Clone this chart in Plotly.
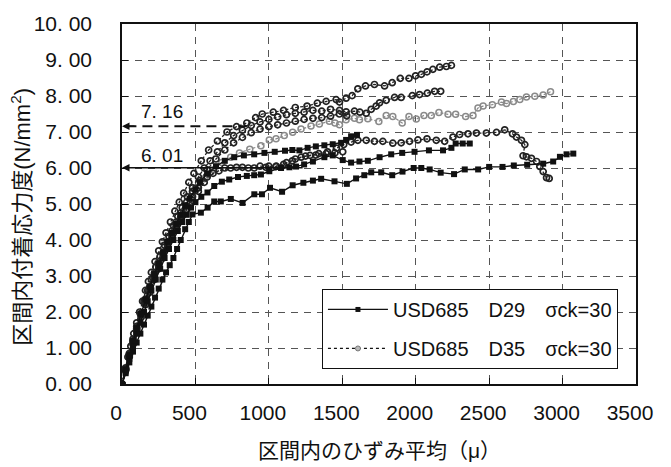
import plotly.graph_objects as go

# ---------------- data (strain in micro, stress in N/mm2) ----------------
S1_x = [0,25,50,75,100,125,150,175,200,225,250,275,300,325,350,375,400,430,455,480,537,583,628,673,741,821,901,953,1008,1090,1162,1235,1300,1356,1447,1531,1594,1650,1697,1765,1840,1910,1986,2038,2095,2170,2261,2334,2425,2500,2591,2668,2759,2868,2936,2982,3027,3073]
S1_y = [0,0.3,0.6,0.9,1.15,1.4,1.65,1.9,2.15,2.4,2.65,2.9,3.1,3.3,3.5,3.75,4.0,4.3,4.5,4.71,4.76,4.9,5.07,5.07,5.14,5.03,5.27,5.27,5.45,5.34,5.52,5.59,5.65,5.70,5.63,5.56,5.71,5.8,5.88,5.88,5.80,5.9,6.00,6.00,5.96,5.87,5.83,5.96,5.96,6.03,6.03,6.07,6.09,6.12,6.18,6.31,6.38,6.40]

S2_x = [0,25,50,75,100,125,150,175,200,230,260,290,320,350,380,410,440,470,500,540,582,628,680,730,790,850,900,946,1003,1083,1140,1185,1240,1300,1378,1435,1503,1560,1617,1674,1754,1833,1908,1992,2090,2186,2243,2272,2320,2368]
S2_y = [0,0.35,0.7,1.05,1.4,1.7,2.0,2.3,2.6,2.9,3.2,3.5,3.75,4.0,4.25,4.5,4.7,4.9,5.05,5.2,5.32,5.5,5.62,5.68,5.75,5.78,5.8,5.82,5.91,6.0,6.02,6.04,6.1,6.18,6.3,6.35,6.22,6.15,6.18,6.2,6.3,6.38,6.42,6.45,6.49,6.49,6.56,6.68,6.68,6.68]

S3_x = [0,25,50,75,100,130,160,190,220,250,280,310,340,370,400,430,460,500,530,580,640,700,764,830,900,970,1040,1110,1160,1208,1264,1320,1378,1435,1492,1526,1560,1600]
S3_y = [0,0.4,0.8,1.2,1.55,1.95,2.35,2.7,3.05,3.35,3.65,3.95,4.2,4.45,4.7,4.95,5.15,5.4,5.6,5.85,6.05,6.2,6.3,6.35,6.38,6.42,6.45,6.48,6.5,6.49,6.56,6.6,6.63,6.66,6.7,6.78,6.88,6.92]

C1_x = [0,20,40,60,80,100,120,140,160,180,200,225,250,275,300,330,360,390,420,455,490,540,590,650,715,780,850,910,955,1030,1100,1180,1260,1330,1390,1458,1481,1526,1567,1606,1658,1719,1788,1840,1895,1954,1999,2038,2077,2117,2163,2209,2243]
C1_y = [0,0.4,0.75,1.05,1.4,1.7,2.0,2.3,2.6,2.85,3.1,3.4,3.7,3.95,4.2,4.5,4.8,5.05,5.3,5.6,5.85,6.2,6.5,6.75,7.0,7.15,7.25,7.4,7.5,7.55,7.6,7.68,7.72,7.8,7.85,7.9,7.83,7.94,8.01,8.2,8.28,8.32,8.28,8.37,8.49,8.49,8.56,8.6,8.67,8.74,8.8,8.82,8.85]

C2_x = [0,25,50,75,100,125,150,175,200,230,260,290,320,350,380,410,445,480,520,560,600,650,700,760,820,880,940,1000,1060,1120,1180,1240,1300,1360,1420,1481,1526,1583,1620,1663,1697,1731,1754,1799,1856,1901,1977,2026,2079,2129,2170]
C2_y = [0,0.45,0.85,1.25,1.6,1.95,2.3,2.6,2.9,3.25,3.55,3.85,4.1,4.4,4.65,4.9,5.2,5.45,5.75,6.0,6.2,6.45,6.7,6.9,7.05,7.18,7.28,7.35,7.42,7.48,7.52,7.55,7.6,7.58,7.63,7.6,7.56,7.58,7.55,7.52,7.63,7.72,7.81,7.88,7.96,7.96,8.01,8.04,8.08,8.13,8.13]

C6_x = [0,25,50,75,100,130,160,190,220,250,280,310,340,370,400,440,480,530,580,640,700,760,820,880,940,1000,1060,1120,1180,1240,1300,1360,1420,1480,1530]
C6_y = [0,0.42,0.82,1.2,1.55,1.95,2.35,2.7,3.05,3.35,3.65,3.95,4.25,4.5,4.75,5.05,5.35,5.65,5.95,6.25,6.5,6.7,6.85,6.98,7.08,7.15,7.2,7.25,7.3,7.35,7.38,7.4,7.44,7.5,7.45]

C3_x = [0,25,50,75,100,130,160,190,220,250,280,310,340,370,400,440,480,520,560,620,680,740,800,870,946,1003,1049,1105,1162,1219,1287,1344,1412,1450,1481,1526,1583,1617,1674,1749,1799,1844,1908,1954,2004,2056,2106,2158,2220,2272,2340,2390,2424,2459,2522,2584,2618,2665,2709,2754,2811,2868,2918]
C3_y = [0,0.4,0.78,1.15,1.5,1.9,2.25,2.6,2.95,3.25,3.55,3.85,4.1,4.35,4.6,4.9,5.2,5.45,5.7,5.95,6.15,6.3,6.42,6.52,6.62,6.78,6.81,6.9,6.99,7.08,7.17,7.22,7.3,7.25,7.2,7.34,7.38,7.34,7.37,7.29,7.46,7.43,7.25,7.43,7.36,7.46,7.46,7.54,7.49,7.49,7.43,7.46,7.67,7.72,7.76,7.83,7.79,7.85,7.9,7.97,7.99,8.03,8.12]

C4_x = [0,25,50,75,100,130,160,190,220,250,280,310,340,370,400,440,480,520,560,620,700,780,860,940,1000,1049,1100,1160,1220,1280,1340,1400,1460,1510,1560,1606,1663,1719,1776,1844,1901,1958,2015,2077,2140,2197,2254,2299,2356,2413,2481,2550,2606,2659,2686,2720,2743,2731,2754,2788,2823,2845,2868,2891,2909]
C4_y = [0,0.38,0.75,1.1,1.45,1.85,2.2,2.55,2.9,3.2,3.5,3.8,4.05,4.3,4.55,4.85,5.1,5.35,5.6,5.85,6.0,6.02,6.0,6.05,6.05,6.04,6.1,6.2,6.3,6.35,6.4,6.45,6.55,6.65,6.72,6.77,6.77,6.74,6.74,6.69,6.70,6.74,6.78,6.81,6.77,6.74,6.86,6.93,6.95,6.97,6.97,6.99,7.06,6.95,6.86,6.77,6.65,6.34,6.31,6.27,6.18,6.04,5.90,5.73,5.71]

C5_x = [0,25,50,75,100,130,160,190,220,250,280,310,340,370,400,440,480,520,580,660,740,820,900,980,1050,1120,1180,1250,1320,1390,1450,1503]
C5_y = [0,0.4,0.8,1.18,1.52,1.92,2.3,2.65,3.0,3.3,3.6,3.9,4.15,4.4,4.65,4.95,5.2,5.45,5.75,5.92,6.0,6.02,6.0,6.02,6.05,6.15,6.25,6.33,6.36,6.4,6.42,6.45]

legend_names = ["USD685　D29　σck=30", "USD685　D35　σck=30"]
y_ticks = [0,1,2,3,4,5,6,7,8,9,10]
y_ticktext = ["0. 00","1. 00","2. 00","3. 00","4. 00","5. 00","6. 00","7. 00","8. 00","9. 00","10. 00"]
x_ticks = [0,500,1000,1500,2000,2500,3000,3500]
ref_high = 7.16
ref_low = 6.01
ref_high_end = 850
ref_low_end = 1240

LATIN = "Liberation Sans, Arial, Noto Sans CJK JP, sans-serif"
CJK = "Liberation Sans, Noto Sans CJK JP, sans-serif"

fig = go.Figure()

d29 = [(S1_x, S1_y), (S2_x, S2_y), (S3_x, S3_y)]
d35_black = [(C1_x, C1_y), (C2_x, C2_y), (C6_x, C6_y), (C4_x, C4_y), (C5_x, C5_y)]
d35_gray = [(C3_x, C3_y)]

for xs, ys in d35_gray:
    fig.add_trace(go.Scatter(x=xs, y=ys, mode="lines+markers", showlegend=False,
                             line=dict(color="#8a8a8a", width=1.2, dash="3px,2px"),
                             marker=dict(symbol="circle-open", size=6, color="#8a8a8a", line=dict(width=1.5))))
for xs, ys in d35_black:
    fig.add_trace(go.Scatter(x=xs, y=ys, mode="lines+markers", showlegend=False,
                             line=dict(color="#222", width=1.3, dash="3px,2px"),
                             marker=dict(symbol="circle-open", size=6, color="#222", line=dict(width=1.7))))
for i, (xs, ys) in enumerate(d29):
    fig.add_trace(go.Scatter(x=xs, y=ys, mode="lines+markers", showlegend=False,
                             line=dict(color="#111", width=1.4),
                             marker=dict(symbol="square", size=6, color="#111")))

# legend entries
fig.add_trace(go.Scatter(x=[None], y=[None], mode="lines+markers", name=legend_names[0],
                         legendgroup="a", legendrank=1,
                         line=dict(color="#111", width=1.3),
                         marker=dict(symbol="square", size=5, color="#111")))
fig.add_trace(go.Scatter(x=[None], y=[None], mode="lines+markers", name=legend_names[1],
                         legendgroup="b", legendrank=2,
                         line=dict(color="#111", width=1.2, dash="3px,3px"),
                         marker=dict(symbol="circle", size=5, color="#bbb", line=dict(color="#777", width=1))))

# reference lines
fig.add_shape(type="line", xref="x", yref="y", x0=30, x1=ref_high_end, y0=ref_high, y1=ref_high,
              line=dict(color="#111", width=2, dash="10px,6px"), layer="above")
fig.add_annotation(x=0, y=ref_high, xref="x", yref="y", ax=14, ay=0, text="", showarrow=True,
                   arrowhead=2, arrowsize=1, arrowwidth=1.5, arrowcolor="#111")
fig.add_annotation(x=0, y=ref_low, xref="x", yref="y", ax=ref_low_end, ay=ref_low, axref="x", ayref="y",
                   text="", showarrow=True, arrowhead=2, arrowsize=1, arrowwidth=1.5, arrowcolor="#111")
fig.add_annotation(x=0, y=ref_high, xref="x", yref="y", xanchor="left", yanchor="bottom", xshift=17, yshift=2,
                   text="7. 16", showarrow=False, font=dict(family=LATIN, size=19, color="#111"))
fig.add_annotation(x=0, y=ref_low, xref="x", yref="y", xanchor="left", yanchor="bottom", xshift=17, yshift=0,
                   text="6. 01", showarrow=False, font=dict(family=LATIN, size=19, color="#111"))

# axis titles
fig.add_annotation(x=0.5, y=-0.186, xref="paper", yref="paper", xanchor="center", yanchor="middle",
                   text="区間内のひずみ平均（μ）", showarrow=False,
                   font=dict(family=CJK, size=21, color="#111"))
fig.add_annotation(x=-0.198, y=0.465, xref="paper", yref="paper", xanchor="center", yanchor="middle",
                   text="区間内付着応力度(N/mm<sup>2</sup>)", textangle=-90, showarrow=False,
                   font=dict(family=CJK, size=22, color="#111"))

grid = dict(showgrid=True, gridcolor="#555", gridwidth=1, griddash="7px,6px",
            showline=True, linecolor="#111", linewidth=1.5, mirror=True,
            ticks="inside", ticklen=6, tickcolor="#111", tickwidth=1, zeroline=False)

fig.update_layout(
    width=671, height=467,
    margin=dict(l=122, r=35, t=16, b=83),
    paper_bgcolor="white", plot_bgcolor="white",
    font=dict(family=LATIN, color="#111"),
    xaxis=dict(range=[0, 3500], tickvals=x_ticks, tickfont=dict(size=21),
               ticklabelshift=-6, ticklabelstandoff=9, **grid),
    yaxis=dict(range=[0, 10], tickvals=y_ticks, ticktext=y_ticktext, tickfont=dict(size=21),
               ticklabelstandoff=24, **grid),
    legend=dict(x=0.389, y=0.264, xanchor="left", yanchor="top",
                bgcolor="white", bordercolor="#111", borderwidth=1,
                font=dict(family=CJK, size=20, color="#111"),
                itemwidth=60, tracegroupgap=10, traceorder="grouped"),
)

fig.write_html("out.html")
